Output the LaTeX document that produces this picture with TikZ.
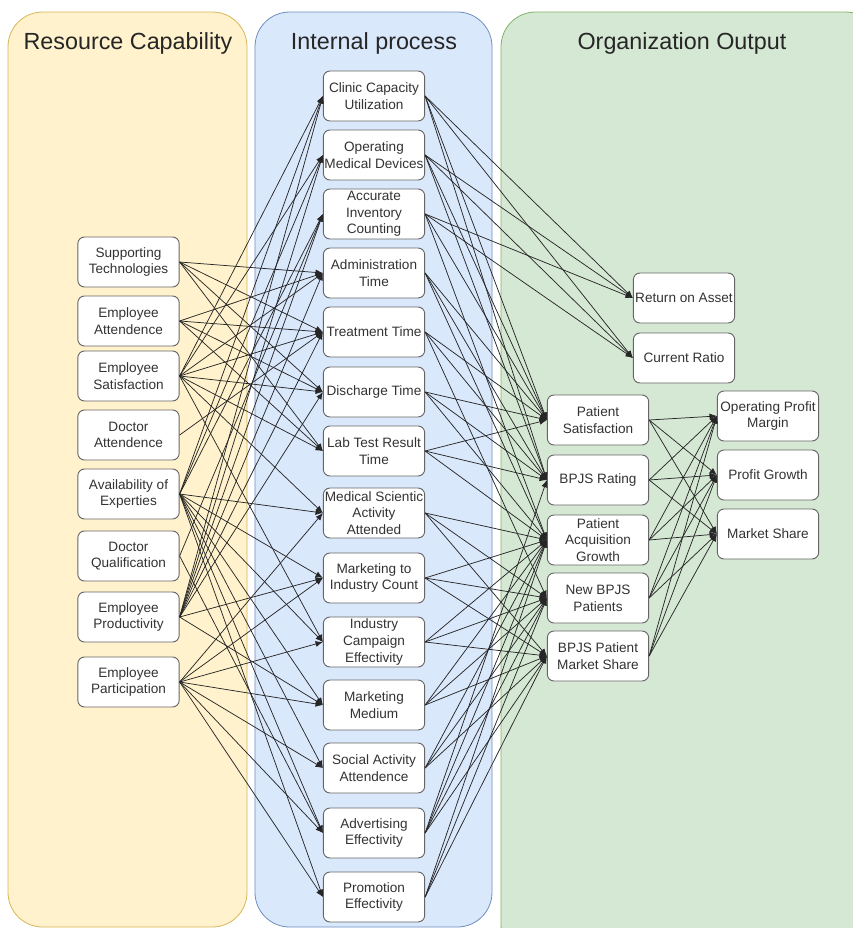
\documentclass[tikz,border=0pt]{standalone}
\usepackage{fontspec}
\setmainfont{Liberation Sans}
\usetikzlibrary{arrows.meta}

\definecolor{rcfill}{HTML}{FFF2CC}
\definecolor{rcline}{HTML}{D6B656}
\definecolor{ipfill}{HTML}{DAE8FC}
\definecolor{ipline}{HTML}{6C8EBF}
\definecolor{oofill}{HTML}{D5E8D4}
\definecolor{ooline}{HTML}{82B366}
\definecolor{boxline}{HTML}{666666}

\tikzset{
  panel/.style={rounded corners=26pt,line width=0.6pt},
  title/.style={font=\fontsize{17.5}{20}\selectfont,text=black!85},
  kpi/.style={draw=boxline,fill=white,rounded corners=5pt,line width=0.7pt,
    minimum width=76pt,minimum height=37.5pt,align=center,inner sep=0.5pt,
    font=\fontsize{10.2}{12.5}\selectfont,text=black!80},
  link/.style={-{Latex[length=5.5pt,width=4.5pt]},line width=0.55pt,draw=black!85}
}

\begin{document}
\begin{tikzpicture}[x=0.75pt,y=-0.75pt]
  \useasboundingbox (0,0) rectangle (853,928);
  % three columns
  \begin{scope}
    \clip (0,0) rectangle (853,928);
    \filldraw[panel,fill=rcfill,draw=rcline] (8,12) rectangle (247,927);
    \filldraw[panel,fill=ipfill,draw=ipline] (255,12) rectangle (492,927);
    \filldraw[panel,fill=oofill,draw=ooline] (501,12) rectangle (880,960);
  \end{scope}
  \node[title] (trc) at (128,43) {Resource Capability};
  \node[title] (tip) at (374,43) {Internal process};
  \node[title] (too) at (682,43) {Organization Output};

  % resource capability
  \node[kpi] (st)  at (128.5,262) {Supporting\\Technologies};
  \node[kpi] (ea)  at (128.5,321) {Employee\\Attendence};
  \node[kpi] (es)  at (128.5,376) {Employee\\Satisfaction};
  \node[kpi] (da)  at (128.5,435) {Doctor\\Attendence};
  \node[kpi] (ae)  at (128.5,494) {Availability of\\Experties};
  \node[kpi] (dq)  at (128.5,556) {Doctor\\Qualification};
  \node[kpi] (ep)  at (128.5,617) {Employee\\Productivity};
  \node[kpi] (epa) at (128.5,682) {Employee\\Participation};

  % internal process
  \node[kpi] (cli) at (374,96)  {Clinic Capacity\\Utilization};
  \node[kpi] (opd) at (374,155) {Operating\\Medical Devices};
  \node[kpi] (aic) at (374,214) {Accurate\\Inventory\\Counting};
  \node[kpi] (adm) at (374,273) {Administration\\Time};
  \node[kpi] (trt) at (374,332) {Treatment Time};
  \node[kpi] (dis) at (374,392) {Discharge Time};
  \node[kpi] (lab) at (374,451) {Lab Test Result\\Time};
  \node[kpi] (msa) at (374,513) {Medical Scientic\\Activity\\Attended};
  \node[kpi] (mic) at (374,578) {Marketing to\\Industry Count};
  \node[kpi] (ice) at (374,642) {Industry\\Campaign\\Effectivity};
  \node[kpi] (mm)  at (374,705) {Marketing\\Medium};
  \node[kpi] (sac) at (374,768) {Social Activity\\Attendence};
  \node[kpi] (adv) at (374,833) {Advertising\\Effectivity};
  \node[kpi] (pro) at (374,897) {Promotion\\Effectivity};

  % organization output
  \node[kpi] (roa) at (684,298) {Return on Asset};
  \node[kpi] (cr)  at (684,358) {Current Ratio};
  \node[kpi] (ps)  at (598,420) {Patient\\Satisfaction};
  \node[kpi] (br)  at (598,480) {BPJS Rating};
  \node[kpi] (pag) at (598,540) {Patient\\Acquisition\\Growth};
  \node[kpi] (nbp) at (598,598) {New BPJS\\Patients};
  \node[kpi] (bpm) at (598,656) {BPJS Patient\\Market Share};
  \node[kpi] (opm) at (768,416) {Operating Profit\\Margin};
  \node[kpi] (pg)  at (768,475) {Profit Growth};
  \node[kpi] (ms)  at (768,534) {Market Share};

  % resource -> process
  \foreach \s/\tl in {st/{adm,trt,dis,lab},
                      ea/{adm,trt,dis,lab},
                      es/{cli,opd,adm,trt,dis,lab,msa,ice},
                      da/{trt},
                      ae/{cli,opd,aic,msa,mic,ice,mm,sac,adv,pro},
                      dq/{aic,adv},
                      ep/{cli,opd,aic,adm,trt,dis,mic,mm},
                      epa/{msa,mic,ice,mm,sac,adv,pro}}
    \foreach \t in \tl
      \draw[link] (\s.east) -- (\t.west);

  % process -> output
  \foreach \s/\tl in {cli/{roa,cr,ps,br},
                      opd/{roa,cr,ps,br},
                      aic/{roa,cr,ps,pag},
                      adm/{ps,br,pag},
                      trt/{ps,br,nbp},
                      dis/{ps,br,pag},
                      lab/{ps,br,pag},
                      msa/{pag,nbp,bpm},
                      mic/{pag,nbp,bpm},
                      ice/{pag,nbp,bpm},
                      mm/{pag,nbp,bpm},
                      sac/{pag,nbp,bpm},
                      adv/{br,pag,nbp,bpm},
                      pro/{pag,nbp,bpm}}
    \foreach \t in \tl
      \draw[link] (\s.east) -- (\t.west);

  % output -> financial
  \foreach \s in {ps,br,pag,nbp,bpm}
    \foreach \t in {opm,pg,ms}
      \draw[link] (\s.east) -- (\t.west);
\end{tikzpicture}
\end{document}
